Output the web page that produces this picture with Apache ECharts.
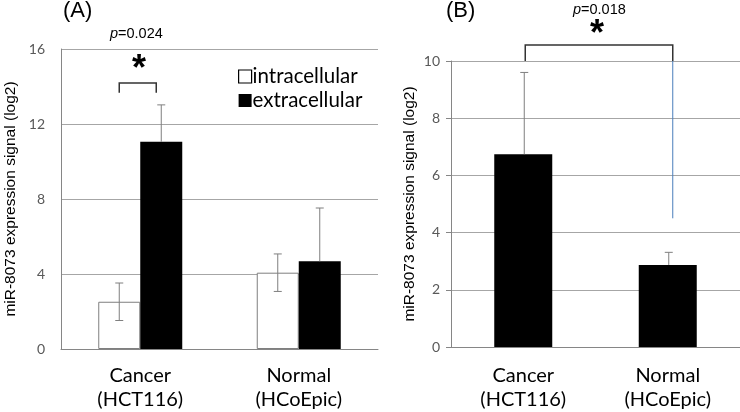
<!DOCTYPE html>
<html><head><meta charset="utf-8">
<script src="https://cdn.jsdelivr.net/npm/echarts@6/dist/echarts.min.js"></script>
<style>html,body{margin:0;padding:0;background:#fff}#c{width:740px;height:412px}</style>
</head><body><div id="c"></div>
<script>
// ---- data ----
const categories = ['Cancer\n(HCT116)', 'Normal\n(HCoEpic)'];
const intracellularA = [2.52, 4.07];
const intracellularErrA = [1.0, 1.0];
const extracellularA = [11.05, 4.68];
const extracellularErrA = [1.97, 2.84];
const valuesB = [6.74, 2.87];
const errB = [2.86, 0.44];
const axisA = { min: 0, max: 16, interval: 4 };
const axisB = { min: 0, max: 10, interval: 2 };
const yTitle = 'miR-8073 expression signal (log2)';
const pA = '=0.024', pB = '=0.018';
const bracketA = [0, 14.19, 13.67];          // category, top, end
const bracketB = [0, 1, 10.56, 10, 4.5];      // from cat, to cat, top, end, blue-end

const BW_A = 42, BW_B = 58;
const GRID_COL = '#a6a6a6', AXIS_COL = '#868686', ERR_COL = '#7f7f7f';
const catFont = { fontFamily: 'Lato', fontSize: 20, color: '#000', lineHeight: 24 };
const tickFont = { fontFamily: 'Lato', fontSize: 14, color: '#595959' };
const titleFont = { fontFamily: 'Liberation Sans', fontSize: 15.5, color: '#000' };

function errRender(offset, showLower) {
  return function (params, api) {
    const x = api.value(0), v = api.value(1), e = api.value(2);
    const top = api.coord([x, v + e]);
    const bot = api.coord([x, showLower ? v - e : v]);
    const cx = top[0] + offset, cap = 4;
    const st = { stroke: ERR_COL, lineWidth: 1 };
    const ch = [
      { type: 'line', shape: { x1: cx, y1: top[1], x2: cx, y2: bot[1] }, style: st },
      { type: 'line', shape: { x1: cx - cap, y1: top[1], x2: cx + cap, y2: top[1] }, style: st }
    ];
    if (showLower) ch.push({ type: 'line', shape: { x1: cx - cap, y1: bot[1], x2: cx + cap, y2: bot[1] }, style: st });
    return { type: 'group', children: ch };
  };
}

const chart = echarts.init(document.getElementById('c'), null, { renderer: 'canvas' });
chart.setOption({
  animation: false,
  backgroundColor: '#fff',
  grid: [
    { left: 61, top: 49, width: 317, height: 300 },
    { left: 451, top: 61, width: 289, height: 286 }
  ],
  legend: {
    orient: 'vertical', left: 233, top: 61, itemWidth: 13, itemHeight: 13, itemGap: 3,
    textStyle: { fontFamily: 'Lato', fontSize: 20.5, color: '#000', padding: [0, 0, 0, -4] },
    data: [
      { name: 'intracellular', icon: 'rect', itemStyle: { color: '#fff', borderColor: '#000', borderWidth: 1.2 } },
      { name: 'extracellular', icon: 'rect', itemStyle: { color: '#000' } }
    ]
  },
  xAxis: [
    { type: 'category', gridIndex: 0, data: categories, axisTick: { show: false },
      axisLine: { lineStyle: { color: AXIS_COL } }, axisLabel: Object.assign({ margin: 15 }, catFont) },
    { type: 'category', gridIndex: 1, data: categories, axisTick: { show: false },
      axisLine: { lineStyle: { color: AXIS_COL } }, axisLabel: Object.assign({ margin: 17 }, catFont) }
  ],
  yAxis: [
    { type: 'value', gridIndex: 0, min: axisA.min, max: axisA.max, interval: axisA.interval,
      axisLine: { show: true, lineStyle: { color: AXIS_COL } }, axisTick: { show: false },
      splitLine: { lineStyle: { color: GRID_COL } }, axisLabel: Object.assign({ margin: 16 }, tickFont),
      name: yTitle, nameLocation: 'middle', nameGap: 42, nameTextStyle: titleFont },
    { type: 'value', gridIndex: 1, min: axisB.min, max: axisB.max, interval: axisB.interval,
      axisLine: { show: true, lineStyle: { color: AXIS_COL } }, axisTick: { show: true, length: 5, lineStyle: { color: AXIS_COL } },
      splitLine: { lineStyle: { color: GRID_COL } }, axisLabel: Object.assign({ margin: 11 }, tickFont),
      name: yTitle, nameLocation: 'middle', nameGap: 33, nameTextStyle: titleFont }
  ],
  series: [
    { name: 'intracellular', type: 'bar', xAxisIndex: 0, yAxisIndex: 0, data: intracellularA,
      barWidth: BW_A, barGap: '0%', itemStyle: { color: '#fff', borderColor: ERR_COL, borderWidth: 1 } },
    { name: 'extracellular', type: 'bar', xAxisIndex: 0, yAxisIndex: 0, data: extracellularA,
      barWidth: BW_A, barGap: '0%', itemStyle: { color: '#000' } },
    { name: 'errIntra', type: 'custom', xAxisIndex: 0, yAxisIndex: 0, z: 5,
      data: intracellularA.map((v, i) => [i, v, intracellularErrA[i]]), renderItem: errRender(-BW_A / 2, true) },
    { name: 'errExtra', type: 'custom', xAxisIndex: 0, yAxisIndex: 0, z: 5,
      data: extracellularA.map((v, i) => [i, v, extracellularErrA[i]]), renderItem: errRender(BW_A / 2, false) },
    { name: 'B', type: 'bar', xAxisIndex: 1, yAxisIndex: 1, data: valuesB, barWidth: BW_B, itemStyle: { color: '#000' } },
    { name: 'errB', type: 'custom', xAxisIndex: 1, yAxisIndex: 1, z: 5,
      data: valuesB.map((v, i) => [i, v, errB[i]]), renderItem: errRender(1, false) },
    { name: 'bracketA', type: 'custom', xAxisIndex: 0, yAxisIndex: 0, z: 6, clip: false,
      data: [bracketA], renderItem: function (p, api) {
        const c = api.coord([api.value(0), api.value(1)]);
        const e = api.coord([api.value(0), api.value(2)]);
        const x1 = c[0] - BW_A / 2, x2 = c[0] + BW_A / 2 - 5;
        return { type: 'polyline', shape: { points: [[x1, e[1]], [x1, c[1]], [x2, c[1]], [x2, e[1]]] },
          style: { stroke: '#333', lineWidth: 1.5, fill: null } };
      } },
    { name: 'bracketB', type: 'custom', xAxisIndex: 1, yAxisIndex: 1, z: 6, clip: false,
      data: [bracketB], renderItem: function (p, api) {
        const a = api.coord([api.value(0), api.value(2)]);
        const b = api.coord([api.value(1), api.value(2)]);
        const e = api.coord([api.value(0), api.value(3)]);
        const bl = api.coord([api.value(1), api.value(4)]);
        const x1 = a[0] + 2, x2 = b[0] + 5;
        return { type: 'group', children: [
          { type: 'polyline', shape: { points: [[x1, e[1]], [x1, a[1]], [x2, a[1]], [x2, e[1]]] },
            style: { stroke: '#333', lineWidth: 1.5, fill: null } },
          { type: 'line', shape: { x1: x2, y1: e[1], x2: x2, y2: bl[1] }, style: { stroke: '#4a7ebb', lineWidth: 1 } }
        ] };
      } }
  ],
  graphic: [
    { type: 'text', left: 63, top: 0, style: { text: '(A)', font: '22px "Liberation Sans"', fill: '#000' } },
    { type: 'text', left: 446, top: 0, style: { text: '(B)', font: '22px "Liberation Sans"', fill: '#000' } },
    { type: 'text', left: 110, top: 26, style: { text: '{i|p}' + pA, font: '14.5px "Liberation Sans"', fill: '#000',
        rich: { i: { fontStyle: 'italic', fontFamily: 'Liberation Sans', fontSize: 14.5 } } } },
    { type: 'text', left: 573, top: 2, style: { text: '{i|p}' + pB, font: '14.5px "Liberation Sans"', fill: '#000',
        rich: { i: { fontStyle: 'italic', fontFamily: 'Liberation Sans', fontSize: 14.5 } } } },
    { type: 'text', x: 139, y: 70, style: { text: '*', font: 'bold 36px "Liberation Sans"', fill: '#000', align: 'center', verticalAlign: 'middle' } },
    { type: 'text', x: 597, y: 35, style: { text: '*', font: 'bold 36px "Liberation Sans"', fill: '#000', align: 'center', verticalAlign: 'middle' } }
  ]
});
</script></body></html>
